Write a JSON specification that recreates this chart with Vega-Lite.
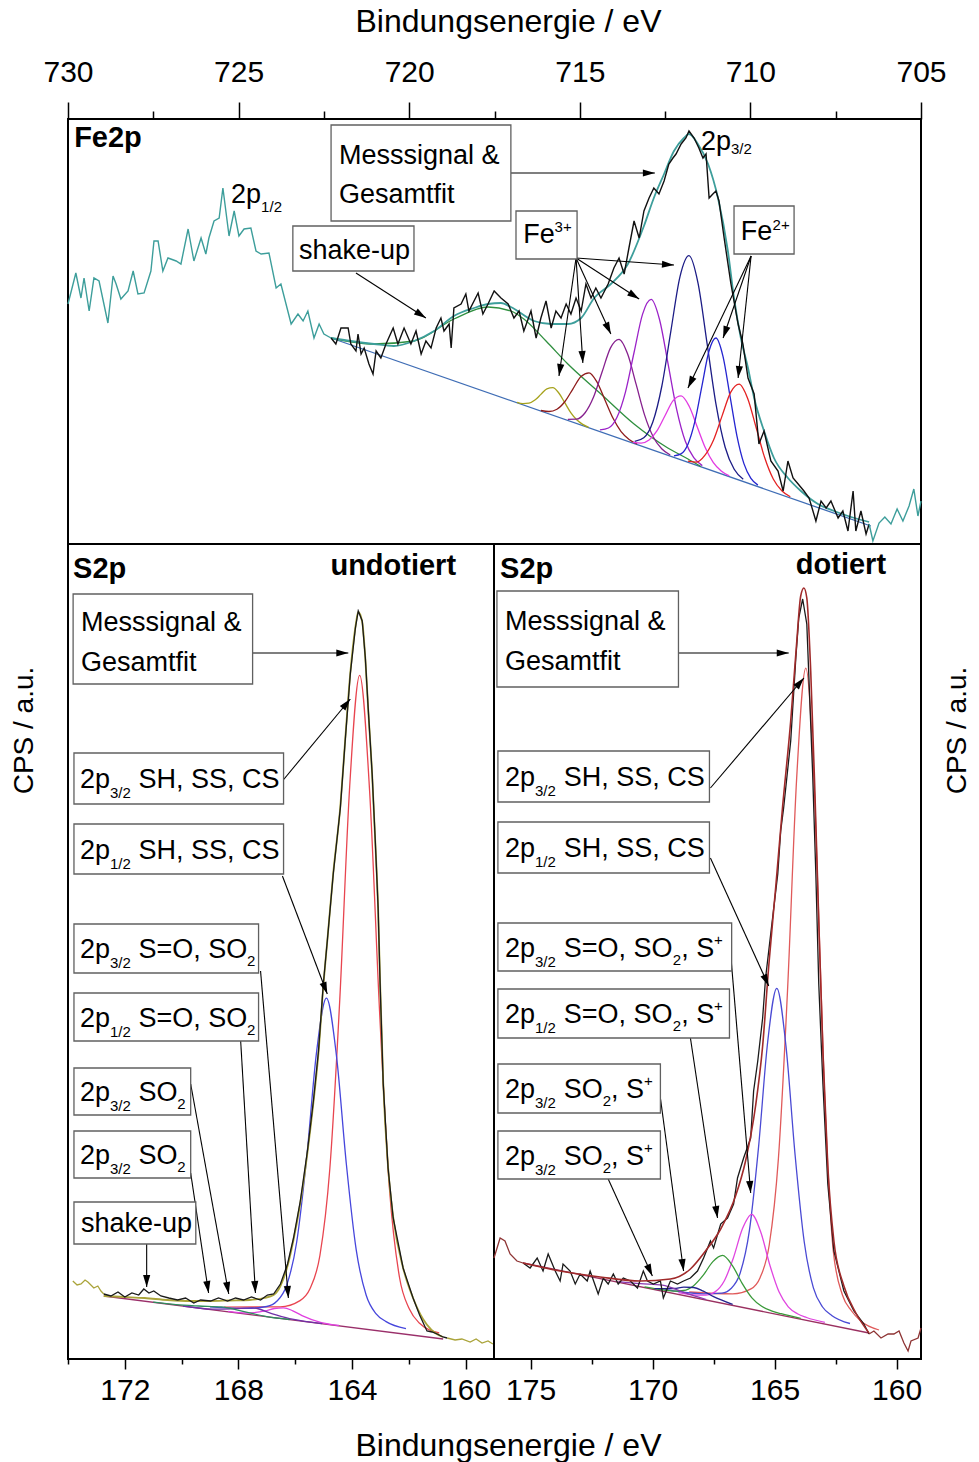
{
"$schema": "https://vega.github.io/schema/vega-lite/v6.json",
"background": "white",
"padding": {"left": 9, "top": 4, "right": 5, "bottom": 5},
"config": {
 "font": "Liberation Sans",
 "view": {"stroke": "black", "strokeWidth": 2},
 "axis": {"grid": false, "domain": false, "tickColor": "black", "tickWidth": 1.5, "labelColor": "black", "labelFontSize": 30, "labelFont": "Liberation Sans", "labelFlush": false, "labelOverlap": false, "titleColor": "black", "titleFontSize": 32, "titleFont": "Liberation Sans", "titleFontWeight": "normal"},
 "text": {"font": "Liberation Sans"}
},
"datasets": {
 "fe_comp": [
  {"s":"Fe Untergrund","E":706.47,"y":18},{"s":"Fe Untergrund","E":722.29,"y":206},
  {"s":"Fe Shake-up","E":722.29,"y":206},{"s":"Fe Shake-up","E":721.03,"y":200},{"s":"Fe Shake-up","E":719.86,"y":203},{"s":"Fe Shake-up","E":718.69,"y":225},{"s":"Fe Shake-up","E":717.69,"y":237},{"s":"Fe Shake-up","E":717.02,"y":233},{"s":"Fe Shake-up","E":716.64,"y":225},{"s":"Fe Shake-up","E":715.99,"y":203},{"s":"Fe Shake-up","E":715.35,"y":180},{"s":"Fe Shake-up","E":714.38,"y":150},{"s":"Fe Shake-up","E":713.41,"y":120},{"s":"Fe Shake-up","E":712.42,"y":96},{"s":"Fe Shake-up","E":711.83,"y":85},{"s":"Fe Shake-up","E":711.45,"y":77.5},
  {"s":"Fe3+ A","E":714.74,"y":116.6},{"s":"Fe3+ A","E":714.915,"y":119.6},{"s":"Fe3+ A","E":715.09,"y":124.2},{"s":"Fe3+ A","E":715.265,"y":131.4},{"s":"Fe3+ A","E":715.44,"y":141.3},{"s":"Fe3+ A","E":715.615,"y":151.0},{"s":"Fe3+ A","E":715.79,"y":156.3},{"s":"Fe3+ A","E":715.965,"y":155.2},{"s":"Fe3+ A","E":716.14,"y":149.6},{"s":"Fe3+ A","E":716.315,"y":143.9},{"s":"Fe3+ A","E":716.49,"y":140.8},{"s":"Fe3+ A","E":716.665,"y":140.4},{"s":"Fe3+ A","E":716.84,"y":141.6},
  {"s":"Fe3+ B","E":713.32,"y":100.0},{"s":"Fe3+ B","E":713.555,"y":104.6},{"s":"Fe3+ B","E":713.79,"y":112.4},{"s":"Fe3+ B","E":714.025,"y":125.7},{"s":"Fe3+ B","E":714.26,"y":143.8},{"s":"Fe3+ B","E":714.495,"y":161.9},{"s":"Fe3+ B","E":714.73,"y":171.2},{"s":"Fe3+ B","E":714.965,"y":167.5},{"s":"Fe3+ B","E":715.2,"y":155.2},{"s":"Fe3+ B","E":715.435,"y":142.5},{"s":"Fe3+ B","E":715.67,"y":134.8},{"s":"Fe3+ B","E":715.905,"y":132.5},{"s":"Fe3+ B","E":716.14,"y":133.5},
  {"s":"Fe3+ C","E":712.35,"y":89.0},{"s":"Fe3+ C","E":712.6,"y":95.2},{"s":"Fe3+ C","E":712.85,"y":107.3},{"s":"Fe3+ C","E":713.1,"y":128.9},{"s":"Fe3+ C","E":713.35,"y":159.8},{"s":"Fe3+ C","E":713.6,"y":190.2},{"s":"Fe3+ C","E":713.85,"y":204.7},{"s":"Fe3+ C","E":714.1,"y":196.1},{"s":"Fe3+ C","E":714.35,"y":171.7},{"s":"Fe3+ C","E":714.6,"y":146.7},{"s":"Fe3+ C","E":714.85,"y":131.0},{"s":"Fe3+ C","E":715.1,"y":124.9},{"s":"Fe3+ C","E":715.35,"y":124.7},
  {"s":"Fe3+ D","E":711.41,"y":78.4},{"s":"Fe3+ D","E":711.66,"y":86.3},{"s":"Fe3+ D","E":711.91,"y":103.0},{"s":"Fe3+ D","E":712.16,"y":134.4},{"s":"Fe3+ D","E":712.41,"y":179.6},{"s":"Fe3+ D","E":712.66,"y":224.0},{"s":"Fe3+ D","E":712.91,"y":244.6},{"s":"Fe3+ D","E":713.16,"y":229.9},{"s":"Fe3+ D","E":713.41,"y":191.5},{"s":"Fe3+ D","E":713.66,"y":152.2},{"s":"Fe3+ D","E":713.91,"y":126.7},{"s":"Fe3+ D","E":714.16,"y":116.0},{"s":"Fe3+ D","E":714.41,"y":114.1},
  {"s":"Fe3+ E","E":710.21,"y":64.8},{"s":"Fe3+ E","E":710.475,"y":74.7},{"s":"Fe3+ E","E":710.74,"y":96.8},{"s":"Fe3+ E","E":711.005,"y":139.1},{"s":"Fe3+ E","E":711.27,"y":200.6},{"s":"Fe3+ E","E":711.535,"y":260.9},{"s":"Fe3+ E","E":711.8,"y":288.4},{"s":"Fe3+ E","E":712.065,"y":267.2},{"s":"Fe3+ E","E":712.33,"y":213.2},{"s":"Fe3+ E","E":712.595,"y":158.0},{"s":"Fe3+ E","E":712.86,"y":122.0},{"s":"Fe3+ E","E":713.125,"y":106.2},{"s":"Fe3+ E","E":713.39,"y":102.6},
  {"s":"Fe2+ A","E":710.62,"y":68.1},{"s":"Fe2+ A","E":710.855,"y":73.0},{"s":"Fe2+ A","E":711.09,"y":81.6},{"s":"Fe2+ A","E":711.325,"y":96.5},{"s":"Fe2+ A","E":711.56,"y":117.3},{"s":"Fe2+ A","E":711.795,"y":137.8},{"s":"Fe2+ A","E":712.03,"y":148.1},{"s":"Fe2+ A","E":712.265,"y":143.4},{"s":"Fe2+ A","E":712.5,"y":128.5},{"s":"Fe2+ A","E":712.735,"y":113.3},{"s":"Fe2+ A","E":712.97,"y":104.0},{"s":"Fe2+ A","E":713.205,"y":100.9},{"s":"Fe2+ A","E":713.44,"y":101.6},
  {"s":"Fe2+ B","E":709.78,"y":58.9},{"s":"Fe2+ B","E":709.985,"y":65.7},{"s":"Fe2+ B","E":710.19,"y":80.4},{"s":"Fe2+ B","E":710.395,"y":108.2},{"s":"Fe2+ B","E":710.6,"y":148.4},{"s":"Fe2+ B","E":710.805,"y":187.9},{"s":"Fe2+ B","E":711.01,"y":206.0},{"s":"Fe2+ B","E":711.215,"y":192.7},{"s":"Fe2+ B","E":711.42,"y":158.2},{"s":"Fe2+ B","E":711.625,"y":122.8},{"s":"Fe2+ B","E":711.83,"y":99.8},{"s":"Fe2+ B","E":712.035,"y":90.1},{"s":"Fe2+ B","E":712.24,"y":88.1},
  {"s":"Fe2+ C","E":708.83,"y":47.2},{"s":"Fe2+ C","E":709.08,"y":53.3},{"s":"Fe2+ C","E":709.33,"y":65.0},{"s":"Fe2+ C","E":709.58,"y":86.2},{"s":"Fe2+ C","E":709.83,"y":116.2},{"s":"Fe2+ C","E":710.08,"y":145.6},{"s":"Fe2+ C","E":710.33,"y":159.9},{"s":"Fe2+ C","E":710.58,"y":151.6},{"s":"Fe2+ C","E":710.83,"y":128.1},{"s":"Fe2+ C","E":711.08,"y":104.0},{"s":"Fe2+ C","E":711.33,"y":88.8},{"s":"Fe2+ C","E":711.58,"y":81.9},{"s":"Fe2+ C","E":711.83,"y":82.8}
 ],
 "fe_fit": [
  {"E":722.29,"y":206},{"E":721.71,"y":203},{"E":721.03,"y":200},{"E":720.45,"y":198},{"E":719.86,"y":203},{"E":719.27,"y":213},{"E":718.69,"y":228},{"E":718.10,"y":236},{"E":717.69,"y":240},{"E":717.31,"y":241},{"E":717.02,"y":237},{"E":716.34,"y":223},{"E":715.84,"y":220},{"E":715.35,"y":220},{"E":714.96,"y":226},{"E":714.58,"y":246},{"E":714.09,"y":260},{"E":713.59,"y":280},{"E":713.12,"y":318},{"E":712.83,"y":346},{"E":712.53,"y":370},{"E":712.24,"y":393},{"E":711.95,"y":406},{"E":711.80,"y":410},{"E":711.54,"y":400},{"E":711.24,"y":380},{"E":710.95,"y":346},{"E":710.66,"y":293},{"E":710.48,"y":246},{"E":710.28,"y":206},{"E":710.07,"y":176},{"E":709.89,"y":146},{"E":709.60,"y":113},{"E":709.31,"y":86},{"E":708.90,"y":66},{"E":708.52,"y":53},{"E":708.02,"y":40},{"E":707.55,"y":33},{"E":707.05,"y":27},{"E":706.52,"y":22}
 ],
 "fe_meas": [
  {"s":"Fe Spektrum L","E":730.0,"y":240},{"s":"Fe Spektrum L","E":729.77,"y":271},{"s":"Fe Spektrum L","E":729.62,"y":246},{"s":"Fe Spektrum L","E":729.53,"y":266},{"s":"Fe Spektrum L","E":729.38,"y":233},{"s":"Fe Spektrum L","E":729.24,"y":266},{"s":"Fe Spektrum L","E":729.09,"y":263},{"s":"Fe Spektrum L","E":728.83,"y":221},{"s":"Fe Spektrum L","E":728.68,"y":268},{"s":"Fe Spektrum L","E":728.59,"y":260},{"s":"Fe Spektrum L","E":728.45,"y":245},{"s":"Fe Spektrum L","E":728.24,"y":253},{"s":"Fe Spektrum L","E":728.09,"y":273},{"s":"Fe Spektrum L","E":727.95,"y":250},{"s":"Fe Spektrum L","E":727.77,"y":251},{"s":"Fe Spektrum L","E":727.57,"y":273},{"s":"Fe Spektrum L","E":727.48,"y":303},{"s":"Fe Spektrum L","E":727.36,"y":303},{"s":"Fe Spektrum L","E":727.22,"y":273},{"s":"Fe Spektrum L","E":727.07,"y":286},{"s":"Fe Spektrum L","E":726.83,"y":283},{"s":"Fe Spektrum L","E":726.69,"y":280},{"s":"Fe Spektrum L","E":726.48,"y":315},{"s":"Fe Spektrum L","E":726.31,"y":283},{"s":"Fe Spektrum L","E":726.10,"y":306},{"s":"Fe Spektrum L","E":725.96,"y":290},{"s":"Fe Spektrum L","E":725.87,"y":306},{"s":"Fe Spektrum L","E":725.72,"y":323},{"s":"Fe Spektrum L","E":725.57,"y":326},{"s":"Fe Spektrum L","E":725.46,"y":356},{"s":"Fe Spektrum L","E":725.28,"y":308},{"s":"Fe Spektrum L","E":725.13,"y":333},{"s":"Fe Spektrum L","E":724.99,"y":308},{"s":"Fe Spektrum L","E":724.84,"y":315},{"s":"Fe Spektrum L","E":724.64,"y":316},{"s":"Fe Spektrum L","E":724.49,"y":293},{"s":"Fe Spektrum L","E":724.34,"y":290},{"s":"Fe Spektrum L","E":724.11,"y":291},{"s":"Fe Spektrum L","E":723.90,"y":256},{"s":"Fe Spektrum L","E":723.76,"y":260},{"s":"Fe Spektrum L","E":723.46,"y":220},{"s":"Fe Spektrum L","E":723.26,"y":230},{"s":"Fe Spektrum L","E":723.11,"y":223},{"s":"Fe Spektrum L","E":722.97,"y":233},{"s":"Fe Spektrum L","E":722.79,"y":206},{"s":"Fe Spektrum L","E":722.64,"y":220},{"s":"Fe Spektrum L","E":722.50,"y":210},{"s":"Fe Spektrum L","E":722.29,"y":206},
  {"s":"Fe Messsignal","E":722.29,"y":206},{"s":"Fe Messsignal","E":722.15,"y":200},{"s":"Fe Messsignal","E":722.00,"y":216},{"s":"Fe Messsignal","E":721.79,"y":216},{"s":"Fe Messsignal","E":721.71,"y":200},{"s":"Fe Messsignal","E":721.56,"y":193},{"s":"Fe Messsignal","E":721.50,"y":210},{"s":"Fe Messsignal","E":721.41,"y":190},{"s":"Fe Messsignal","E":721.32,"y":196},{"s":"Fe Messsignal","E":721.18,"y":180},{"s":"Fe Messsignal","E":721.06,"y":170},{"s":"Fe Messsignal","E":720.97,"y":193},{"s":"Fe Messsignal","E":720.83,"y":186},{"s":"Fe Messsignal","E":720.68,"y":200},{"s":"Fe Messsignal","E":720.47,"y":216},{"s":"Fe Messsignal","E":720.33,"y":200},{"s":"Fe Messsignal","E":720.15,"y":216},{"s":"Fe Messsignal","E":719.95,"y":200},{"s":"Fe Messsignal","E":719.80,"y":213},{"s":"Fe Messsignal","E":719.65,"y":190},{"s":"Fe Messsignal","E":719.51,"y":203},{"s":"Fe Messsignal","E":719.36,"y":196},{"s":"Fe Messsignal","E":719.21,"y":216},{"s":"Fe Messsignal","E":719.07,"y":226},{"s":"Fe Messsignal","E":718.98,"y":213},{"s":"Fe Messsignal","E":718.83,"y":220},{"s":"Fe Messsignal","E":718.77,"y":196},{"s":"Fe Messsignal","E":718.69,"y":236},{"s":"Fe Messsignal","E":718.48,"y":240},{"s":"Fe Messsignal","E":718.34,"y":250},{"s":"Fe Messsignal","E":718.25,"y":233},{"s":"Fe Messsignal","E":717.98,"y":251},{"s":"Fe Messsignal","E":717.84,"y":230},{"s":"Fe Messsignal","E":717.69,"y":240},{"s":"Fe Messsignal","E":717.51,"y":253},{"s":"Fe Messsignal","E":717.31,"y":246},{"s":"Fe Messsignal","E":717.10,"y":240},{"s":"Fe Messsignal","E":716.93,"y":226},{"s":"Fe Messsignal","E":716.78,"y":233},{"s":"Fe Messsignal","E":716.64,"y":213},{"s":"Fe Messsignal","E":716.43,"y":233},{"s":"Fe Messsignal","E":716.28,"y":206},{"s":"Fe Messsignal","E":716.14,"y":226},{"s":"Fe Messsignal","E":715.99,"y":243},{"s":"Fe Messsignal","E":715.84,"y":216},{"s":"Fe Messsignal","E":715.70,"y":233},{"s":"Fe Messsignal","E":715.55,"y":226},{"s":"Fe Messsignal","E":715.40,"y":240},{"s":"Fe Messsignal","E":715.26,"y":230},{"s":"Fe Messsignal","E":715.11,"y":246},{"s":"Fe Messsignal","E":714.96,"y":233},{"s":"Fe Messsignal","E":714.82,"y":260},{"s":"Fe Messsignal","E":714.67,"y":246},{"s":"Fe Messsignal","E":714.53,"y":256},{"s":"Fe Messsignal","E":714.38,"y":246},{"s":"Fe Messsignal","E":714.17,"y":260},{"s":"Fe Messsignal","E":714.00,"y":276},{"s":"Fe Messsignal","E":713.85,"y":286},{"s":"Fe Messsignal","E":713.70,"y":270},{"s":"Fe Messsignal","E":713.56,"y":296},{"s":"Fe Messsignal","E":713.41,"y":323},{"s":"Fe Messsignal","E":713.26,"y":306},{"s":"Fe Messsignal","E":713.12,"y":333},{"s":"Fe Messsignal","E":712.97,"y":346},{"s":"Fe Messsignal","E":712.83,"y":356},{"s":"Fe Messsignal","E":712.68,"y":350},{"s":"Fe Messsignal","E":712.53,"y":363},{"s":"Fe Messsignal","E":712.39,"y":380},{"s":"Fe Messsignal","E":712.27,"y":386},{"s":"Fe Messsignal","E":712.18,"y":390},{"s":"Fe Messsignal","E":712.03,"y":400},{"s":"Fe Messsignal","E":711.89,"y":406},{"s":"Fe Messsignal","E":711.80,"y":413},{"s":"Fe Messsignal","E":711.65,"y":406},{"s":"Fe Messsignal","E":711.51,"y":396},{"s":"Fe Messsignal","E":711.39,"y":386},{"s":"Fe Messsignal","E":711.30,"y":390},{"s":"Fe Messsignal","E":711.21,"y":346},{"s":"Fe Messsignal","E":711.10,"y":350},{"s":"Fe Messsignal","E":711.01,"y":353},{"s":"Fe Messsignal","E":710.92,"y":343},{"s":"Fe Messsignal","E":710.77,"y":306},{"s":"Fe Messsignal","E":710.57,"y":260},{"s":"Fe Messsignal","E":710.36,"y":220},{"s":"Fe Messsignal","E":710.22,"y":200},{"s":"Fe Messsignal","E":710.07,"y":166},{"s":"Fe Messsignal","E":709.89,"y":150},{"s":"Fe Messsignal","E":709.75,"y":100},{"s":"Fe Messsignal","E":709.60,"y":113},{"s":"Fe Messsignal","E":709.40,"y":83},{"s":"Fe Messsignal","E":709.19,"y":73},{"s":"Fe Messsignal","E":709.04,"y":53},{"s":"Fe Messsignal","E":708.90,"y":83},{"s":"Fe Messsignal","E":708.75,"y":66},{"s":"Fe Messsignal","E":708.60,"y":60},{"s":"Fe Messsignal","E":708.43,"y":53},{"s":"Fe Messsignal","E":708.28,"y":46},{"s":"Fe Messsignal","E":708.08,"y":23},{"s":"Fe Messsignal","E":707.93,"y":43},{"s":"Fe Messsignal","E":707.78,"y":36},{"s":"Fe Messsignal","E":707.64,"y":43},{"s":"Fe Messsignal","E":707.43,"y":26},{"s":"Fe Messsignal","E":707.29,"y":33},{"s":"Fe Messsignal","E":707.14,"y":13},{"s":"Fe Messsignal","E":706.99,"y":53},{"s":"Fe Messsignal","E":706.91,"y":13},{"s":"Fe Messsignal","E":706.76,"y":33},{"s":"Fe Messsignal","E":706.61,"y":10},{"s":"Fe Messsignal","E":706.52,"y":20},
  {"s":"Fe Spektrum R","E":706.52,"y":20},{"s":"Fe Spektrum R","E":706.41,"y":3},{"s":"Fe Spektrum R","E":706.23,"y":21},{"s":"Fe Spektrum R","E":706.06,"y":27},{"s":"Fe Spektrum R","E":705.88,"y":20},{"s":"Fe Spektrum R","E":705.70,"y":35},{"s":"Fe Spektrum R","E":705.53,"y":23},{"s":"Fe Spektrum R","E":705.35,"y":38},{"s":"Fe Spektrum R","E":705.21,"y":55},{"s":"Fe Spektrum R","E":705.09,"y":28},{"s":"Fe Spektrum R","E":705.0,"y":43}
 ],
 "fe_arrows": [
  {"E":712.80,"y":371,"E2":717.02,"y2":371,"a":90},
  {"E":719.51,"y":226,"E2":721.56,"y2":271,"a":122.7},
  {"E":715.61,"y":168,"E2":715.11,"y2":286,"a":188.3},
  {"E":714.91,"y":181,"E2":715.11,"y2":286,"a":176.1},
  {"E":714.09,"y":210,"E2":715.11,"y2":286,"a":155},
  {"E":713.26,"y":245,"E2":715.11,"y2":286,"a":122.4},
  {"E":712.24,"y":279,"E2":715.11,"y2":286,"a":93.5},
  {"E":711.83,"y":156,"E2":709.98,"y2":288,"a":205.5},
  {"E":710.80,"y":206,"E2":709.98,"y2":288,"a":198.9},
  {"E":710.36,"y":166,"E2":709.98,"y2":288,"a":186.1}
 ],
 "fe_boxes": [
  {"E":722.29,"y":419,"E2":717.02,"y2":323},
  {"E":723.41,"y":318,"E2":719.86,"y2":273},
  {"E":716.87,"y":333,"E2":715.08,"y2":285},
  {"E":710.48,"y":338,"E2":708.72,"y2":290}
 ],
 "fe_text": [
  {"E":722.06,"y":380.5,"t":"Messsignal &"},
  {"E":722.06,"y":341.5,"t":"Gesamtfit"},
  {"E":723.23,"y":285,"t":"shake-up"},
  {"E":725.22,"y":341,"t":"2p"},
  {"E":711.45,"y":394,"t":"2p"},
  {"E":716.66,"y":300.7,"t":"Fe"},
  {"E":710.28,"y":303.7,"t":"Fe"}
 ],
 "fe_small": [
  {"E":724.34,"y":332,"t":"1/2"},
  {"E":710.57,"y":390,"t":"3/2"},
  {"E":715.74,"y":312,"t":"3+"},
  {"E":709.35,"y":314,"t":"2+"}
 ],
 "fe_bold": [
  {"E":729.82,"y":397,"t":"Fe2p"}
 ],
 "u_comp": [
  {"s":"U Untergrund","E":160.79,"y":20},{"s":"U Untergrund","E":172.74,"y":63},
  {"s":"U 2p3/2 SH","E":160.93,"y":26.0},{"s":"U 2p3/2 SH","E":161.63,"y":36.0},{"s":"U 2p3/2 SH","E":161.98,"y":50.0},{"s":"U 2p3/2 SH","E":162.33,"y":82.0},{"s":"U 2p3/2 SH","E":162.68,"y":170.0},{"s":"U 2p3/2 SH","E":163.03,"y":348.0},{"s":"U 2p3/2 SH","E":163.38,"y":568.0},{"s":"U 2p3/2 SH","E":163.73,"y":683.6},{"s":"U 2p3/2 SH","E":164.08,"y":573.2},{"s":"U 2p3/2 SH","E":164.43,"y":359.6},{"s":"U 2p3/2 SH","E":164.78,"y":190.5},{"s":"U 2p3/2 SH","E":165.13,"y":103.5},{"s":"U 2p3/2 SH","E":165.48,"y":70.2},{"s":"U 2p3/2 SH","E":165.83,"y":58.4},{"s":"U 2p3/2 SH","E":166.53,"y":52.2},{"s":"U 2p3/2 SH","E":168.5,"y":51.9},
  {"s":"U 2p1/2 SH","E":162.1,"y":30.4},{"s":"U 2p1/2 SH","E":162.8,"y":37.4},{"s":"U 2p1/2 SH","E":163.15,"y":45.1},{"s":"U 2p1/2 SH","E":163.5,"y":63.7},{"s":"U 2p1/2 SH","E":163.85,"y":108.9},{"s":"U 2p1/2 SH","E":164.2,"y":195.3},{"s":"U 2p1/2 SH","E":164.55,"y":303.9},{"s":"U 2p1/2 SH","E":164.9,"y":360.8},{"s":"U 2p1/2 SH","E":165.25,"y":306.4},{"s":"U 2p1/2 SH","E":165.6,"y":200.3},{"s":"U 2p1/2 SH","E":165.95,"y":116.5},{"s":"U 2p1/2 SH","E":166.3,"y":73.8},{"s":"U 2p1/2 SH","E":166.65,"y":57.7},{"s":"U 2p1/2 SH","E":167.0,"y":52.5},{"s":"U 2p1/2 SH","E":167.7,"y":50.6},{"s":"U 2p1/2 SH","E":169.0,"y":52.2},
  {"s":"U 2p3/2 S=O","E":164.46,"y":33.5},{"s":"U 2p3/2 S=O","E":165.11,"y":36.7},{"s":"U 2p3/2 S=O","E":165.76,"y":43.4},{"s":"U 2p3/2 S=O","E":166.085,"y":48.2},{"s":"U 2p3/2 S=O","E":166.41,"y":51.2},{"s":"U 2p3/2 S=O","E":166.735,"y":50.5},{"s":"U 2p3/2 S=O","E":167.06,"y":48.1},{"s":"U 2p3/2 S=O","E":167.71,"y":46.0},{"s":"U 2p3/2 S=O","E":168.36,"y":47.6},
  {"s":"U 2p1/2 S=O","E":165.05,"y":35.4},{"s":"U 2p1/2 S=O","E":166.1,"y":39.8},{"s":"U 2p1/2 S=O","E":166.8,"y":45.2},{"s":"U 2p1/2 S=O","E":167.5,"y":51.1},{"s":"U 2p1/2 S=O","E":168.2,"y":50.2},{"s":"U 2p1/2 S=O","E":168.9,"y":49.9},{"s":"U 2p1/2 S=O","E":169.95,"y":53.0},
  {"s":"U SO2","E":166.2,"y":39.5},{"s":"U SO2","E":167.0,"y":42.4},{"s":"U SO2","E":167.8,"y":47.3},{"s":"U SO2","E":168.6,"y":52.1},{"s":"U SO2","E":169.4,"y":53.0},{"s":"U SO2","E":170.2,"y":54.3},{"s":"U SO2","E":171.0,"y":56.8}
 ],
 "u_fit": [
  {"E":172.74,"y":63},{"E":172.0,"y":62},{"E":171.3,"y":61},{"E":170.5,"y":59},{"E":169.7,"y":58},{"E":169.0,"y":58},{"E":168.3,"y":58.5},{"E":167.6,"y":59},{"E":167.1,"y":61},{"E":166.76,"y":64},{"E":166.52,"y":73},{"E":166.27,"y":93},{"E":166.06,"y":119},{"E":165.82,"y":156},{"E":165.57,"y":206},{"E":165.36,"y":256},{"E":165.18,"y":306},{"E":165.01,"y":373},{"E":164.87,"y":418},{"E":164.66,"y":486},{"E":164.41,"y":553},{"E":164.24,"y":619},{"E":164.06,"y":686},{"E":163.88,"y":732},{"E":163.78,"y":747},{"E":163.64,"y":737},{"E":163.53,"y":700},{"E":163.43,"y":650},{"E":163.29,"y":584},{"E":163.18,"y":517},{"E":163.08,"y":450},{"E":163.01,"y":376},{"E":162.90,"y":276},{"E":162.73,"y":192},{"E":162.55,"y":142},{"E":162.20,"y":91},{"E":161.85,"y":61},{"E":161.5,"y":40},{"E":161.2,"y":29},{"E":160.8,"y":22}
 ],
 "u_meas": [
  {"s":"U Spektrum L","E":173.83,"y":78},{"s":"U Spektrum L","E":173.68,"y":74},{"s":"U Spektrum L","E":173.54,"y":75},{"s":"U Spektrum L","E":173.40,"y":79},{"s":"U Spektrum L","E":173.30,"y":77},{"s":"U Spektrum L","E":173.09,"y":71},{"s":"U Spektrum L","E":172.95,"y":73},{"s":"U Spektrum L","E":172.84,"y":68},{"s":"U Spektrum L","E":172.74,"y":65},
  {"s":"U Messsignal","E":172.74,"y":65},{"s":"U Messsignal","E":172.49,"y":63},{"s":"U Messsignal","E":172.24,"y":67},{"s":"U Messsignal","E":172.0,"y":62},{"s":"U Messsignal","E":171.75,"y":66},{"s":"U Messsignal","E":171.51,"y":64},{"s":"U Messsignal","E":171.33,"y":70},{"s":"U Messsignal","E":171.15,"y":66},{"s":"U Messsignal","E":170.98,"y":68},{"s":"U Messsignal","E":170.73,"y":63},{"s":"U Messsignal","E":170.45,"y":61},{"s":"U Messsignal","E":170.14,"y":59},{"s":"U Messsignal","E":169.86,"y":61},{"s":"U Messsignal","E":169.57,"y":56},{"s":"U Messsignal","E":169.33,"y":59},{"s":"U Messsignal","E":168.98,"y":58},{"s":"U Messsignal","E":168.70,"y":61},{"s":"U Messsignal","E":168.38,"y":58},{"s":"U Messsignal","E":168.10,"y":61},{"s":"U Messsignal","E":167.82,"y":59},{"s":"U Messsignal","E":167.54,"y":62},{"s":"U Messsignal","E":167.22,"y":59},{"s":"U Messsignal","E":166.98,"y":64},{"s":"U Messsignal","E":166.76,"y":65},{"s":"U Messsignal","E":166.52,"y":75},{"s":"U Messsignal","E":166.27,"y":95},{"s":"U Messsignal","E":166.06,"y":121},{"s":"U Messsignal","E":165.82,"y":158},{"s":"U Messsignal","E":165.57,"y":208},{"s":"U Messsignal","E":165.36,"y":258},{"s":"U Messsignal","E":165.18,"y":308},{"s":"U Messsignal","E":165.01,"y":375},{"s":"U Messsignal","E":164.87,"y":418},{"s":"U Messsignal","E":164.66,"y":485},{"s":"U Messsignal","E":164.41,"y":551},{"s":"U Messsignal","E":164.24,"y":618},{"s":"U Messsignal","E":164.06,"y":685},{"s":"U Messsignal","E":163.88,"y":731},{"s":"U Messsignal","E":163.78,"y":748},{"s":"U Messsignal","E":163.64,"y":738},{"s":"U Messsignal","E":163.53,"y":701},{"s":"U Messsignal","E":163.43,"y":651},{"s":"U Messsignal","E":163.29,"y":585},{"s":"U Messsignal","E":163.18,"y":518},{"s":"U Messsignal","E":163.08,"y":451},{"s":"U Messsignal","E":163.01,"y":375},{"s":"U Messsignal","E":162.90,"y":275},{"s":"U Messsignal","E":162.73,"y":191},{"s":"U Messsignal","E":162.55,"y":141},{"s":"U Messsignal","E":162.20,"y":91},{"s":"U Messsignal","E":161.85,"y":61},{"s":"U Messsignal","E":161.62,"y":44},{"s":"U Messsignal","E":161.36,"y":28},{"s":"U Messsignal","E":161.18,"y":27},{"s":"U Messsignal","E":161.00,"y":25},{"s":"U Messsignal","E":160.80,"y":22},{"s":"U Messsignal","E":160.65,"y":21},
  {"s":"U Spektrum R","E":160.65,"y":21},{"s":"U Spektrum R","E":160.37,"y":19},{"s":"U Spektrum R","E":160.13,"y":20},{"s":"U Spektrum R","E":159.84,"y":17},{"s":"U Spektrum R","E":159.63,"y":20},{"s":"U Spektrum R","E":159.42,"y":16},{"s":"U Spektrum R","E":159.21,"y":18},{"s":"U Spektrum R","E":159.04,"y":15}
 ],
 "u_arrows": [
  {"E":164.13,"y":706,"E2":167.50,"y2":706,"a":90},
  {"E":164.06,"y":660,"E2":166.45,"y2":578,"a":39.7},
  {"E":164.87,"y":365,"E2":166.45,"y2":483,"a":159.1},
  {"E":166.24,"y":61,"E2":167.22,"y2":388,"a":175.1},
  {"E":167.40,"y":66,"E2":167.92,"y2":318,"a":176.6},
  {"E":168.34,"y":65,"E2":169.68,"y2":275,"a":169.7},
  {"E":169.05,"y":66,"E2":169.68,"y2":186,"a":171.5},
  {"E":171.23,"y":72,"E2":171.23,"y2":115,"a":180}
 ],
 "u_boxes": [
  {"E":173.82,"y":765,"E2":167.5,"y2":675},
  {"E":173.79,"y":606,"E2":166.41,"y2":555},
  {"E":173.79,"y":535,"E2":166.41,"y2":485},
  {"E":173.79,"y":435,"E2":167.29,"y2":386},
  {"E":173.79,"y":366,"E2":167.29,"y2":318},
  {"E":173.79,"y":291,"E2":169.68,"y2":244},
  {"E":173.79,"y":228,"E2":169.68,"y2":181},
  {"E":173.79,"y":157,"E2":169.5,"y2":115}
 ],
 "u_text": [
  {"E":173.54,"y":728,"t":"Messsignal &"},
  {"E":173.54,"y":688,"t":"Gesamtfit"},
  {"E":173.58,"y":571,"t":"2p"},{"E":171.52,"y":571,"t":"SH, SS, CS"},
  {"E":173.58,"y":500,"t":"2p"},{"E":171.52,"y":500,"t":"SH, SS, CS"},
  {"E":173.58,"y":401,"t":"2p"},{"E":171.52,"y":401,"t":"S=O, SO"},
  {"E":173.58,"y":332,"t":"2p"},{"E":171.52,"y":332,"t":"S=O, SO"},
  {"E":173.58,"y":258,"t":"2p"},{"E":171.52,"y":258,"t":"SO"},
  {"E":173.58,"y":195,"t":"2p"},{"E":171.52,"y":195,"t":"SO"},
  {"E":173.54,"y":127,"t":"shake-up"}
 ],
 "u_small": [
  {"E":172.52,"y":561,"t":"3/2"},
  {"E":172.52,"y":490,"t":"1/2"},
  {"E":172.52,"y":391,"t":"3/2"},{"E":167.70,"y":393,"t":"2"},
  {"E":172.52,"y":322,"t":"1/2"},{"E":167.70,"y":324,"t":"2"},
  {"E":172.52,"y":248,"t":"3/2"},{"E":170.15,"y":250,"t":"2"},
  {"E":172.52,"y":185,"t":"3/2"},{"E":170.15,"y":187,"t":"2"}
 ],
 "u_bold": [
  {"E":173.82,"y":781,"t":"S2p"},{"E":164.76,"y":784,"t":"undotiert"}
 ],
 "d_comp": [
  {"s":"D Untergrund","E":161.13,"y":26},{"s":"D Untergrund","E":175.31,"y":96},
  {"s":"D 2p3/2 SH","E":160.72,"y":29.0},{"s":"D 2p3/2 SH","E":161.47,"y":38.0},{"s":"D 2p3/2 SH","E":161.845,"y":48.0},{"s":"D 2p3/2 SH","E":162.22,"y":64.0},{"s":"D 2p3/2 SH","E":162.595,"y":108.0},{"s":"D 2p3/2 SH","E":162.97,"y":275.0},{"s":"D 2p3/2 SH","E":163.345,"y":555.0},{"s":"D 2p3/2 SH","E":163.72,"y":690.8},{"s":"D 2p3/2 SH","E":164.095,"y":581.1},{"s":"D 2p3/2 SH","E":164.47,"y":368.5},{"s":"D 2p3/2 SH","E":164.845,"y":200.1},{"s":"D 2p3/2 SH","E":165.22,"y":114.0},{"s":"D 2p3/2 SH","E":165.595,"y":81.3},{"s":"D 2p3/2 SH","E":165.97,"y":70.1},{"s":"D 2p3/2 SH","E":166.72,"y":65.1},{"s":"D 2p3/2 SH","E":168.5,"y":67.0},
  {"s":"D 2p1/2 SH","E":161.91,"y":35.5},{"s":"D 2p1/2 SH","E":162.66,"y":43.6},{"s":"D 2p1/2 SH","E":163.035,"y":52.0},{"s":"D 2p1/2 SH","E":163.41,"y":71.1},{"s":"D 2p1/2 SH","E":163.785,"y":117.0},{"s":"D 2p1/2 SH","E":164.16,"y":204.0},{"s":"D 2p1/2 SH","E":164.535,"y":313.1},{"s":"D 2p1/2 SH","E":164.91,"y":370.7},{"s":"D 2p1/2 SH","E":165.285,"y":316.8},{"s":"D 2p1/2 SH","E":165.66,"y":211.4},{"s":"D 2p1/2 SH","E":166.035,"y":128.1},{"s":"D 2p1/2 SH","E":166.41,"y":86.0},{"s":"D 2p1/2 SH","E":166.785,"y":70.5},{"s":"D 2p1/2 SH","E":167.16,"y":65.9},{"s":"D 2p1/2 SH","E":167.91,"y":65.2},{"s":"D 2p1/2 SH","E":169.5,"y":69.6},
  {"s":"D 2p3/2 S=O","E":162.94,"y":36.6},{"s":"D 2p3/2 S=O","E":163.69,"y":41.5},{"s":"D 2p3/2 S=O","E":164.065,"y":45.3},{"s":"D 2p3/2 S=O","E":164.44,"y":52.2},{"s":"D 2p3/2 S=O","E":164.815,"y":66.9},{"s":"D 2p3/2 S=O","E":165.19,"y":93.5},{"s":"D 2p3/2 S=O","E":165.565,"y":126.7},{"s":"D 2p3/2 S=O","E":165.94,"y":144.7},{"s":"D 2p3/2 S=O","E":166.315,"y":130.4},{"s":"D 2p3/2 S=O","E":166.69,"y":101.0},{"s":"D 2p3/2 S=O","E":167.065,"y":78.0},{"s":"D 2p3/2 S=O","E":167.44,"y":67.1},{"s":"D 2p3/2 S=O","E":167.815,"y":63.8},{"s":"D 2p3/2 S=O","E":168.19,"y":63.8},{"s":"D 2p3/2 S=O","E":168.94,"y":66.3},
  {"s":"D 2p1/2 S=O","E":163.93,"y":40.6},{"s":"D 2p1/2 S=O","E":164.73,"y":45.3},{"s":"D 2p1/2 S=O","E":165.13,"y":48.1},{"s":"D 2p1/2 S=O","E":165.53,"y":52.7},{"s":"D 2p1/2 S=O","E":165.93,"y":61.2},{"s":"D 2p1/2 S=O","E":166.33,"y":75.7},{"s":"D 2p1/2 S=O","E":166.73,"y":93.4},{"s":"D 2p1/2 S=O","E":167.13,"y":103.6},{"s":"D 2p1/2 S=O","E":167.53,"y":97.4},{"s":"D 2p1/2 S=O","E":167.93,"y":83.6},{"s":"D 2p1/2 S=O","E":168.33,"y":73.1},{"s":"D 2p1/2 S=O","E":168.73,"y":68.5},{"s":"D 2p1/2 S=O","E":169.13,"y":67.9},{"s":"D 2p1/2 S=O","E":169.53,"y":69.0},{"s":"D 2p1/2 S=O","E":170.33,"y":72.2},
  {"s":"D SO2 a","E":166.72,"y":54.6},{"s":"D SO2 a","E":167.52,"y":62.6},{"s":"D SO2 a","E":167.92,"y":67.8},{"s":"D SO2 a","E":168.32,"y":71.5},{"s":"D SO2 a","E":168.72,"y":71.8},{"s":"D SO2 a","E":169.12,"y":70.5},{"s":"D SO2 a","E":169.92,"y":70.4},
  {"s":"D SO2 b","E":167.8,"y":59.5},{"s":"D SO2 b","E":168.7,"y":66.4},{"s":"D SO2 b","E":169.6,"y":73.8},{"s":"D SO2 b","E":170.5,"y":75.3},{"s":"D SO2 b","E":171.4,"y":77.3}
 ],
 "d_fit": [
  {"E":175.31,"y":96},{"E":173.79,"y":88},{"E":172.15,"y":82},{"E":170.50,"y":78},{"E":169.27,"y":80},{"E":168.45,"y":90},{"E":167.83,"y":108},{"E":167.21,"y":130},{"E":166.60,"y":163},{"E":166.19,"y":198},{"E":165.78,"y":253},{"E":165.49,"y":313},{"E":165.24,"y":393},{"E":164.95,"y":473},{"E":164.67,"y":553},{"E":164.34,"y":638},{"E":164.09,"y":718},{"E":163.93,"y":763},{"E":163.80,"y":771},{"E":163.68,"y":761},{"E":163.52,"y":688},{"E":163.35,"y":568},{"E":163.19,"y":438},{"E":163.02,"y":308},{"E":162.82,"y":193},{"E":162.57,"y":118},{"E":162.16,"y":73},{"E":161.67,"y":46},{"E":161.13,"y":26}
 ],
 "d_meas": [
  {"s":"D Spektrum L","E":176.5,"y":101},{"s":"D Spektrum L","E":176.25,"y":121},{"s":"D Spektrum L","E":176.05,"y":118},{"s":"D Spektrum L","E":175.84,"y":105},{"s":"D Spektrum L","E":175.56,"y":98},{"s":"D Spektrum L","E":175.31,"y":96},
  {"s":"D Messsignal","E":175.31,"y":96},{"s":"D Messsignal","E":175.02,"y":91},{"s":"D Messsignal","E":174.73,"y":101},{"s":"D Messsignal","E":174.49,"y":88},{"s":"D Messsignal","E":174.28,"y":105},{"s":"D Messsignal","E":173.99,"y":88},{"s":"D Messsignal","E":173.79,"y":78},{"s":"D Messsignal","E":173.67,"y":95},{"s":"D Messsignal","E":173.38,"y":88},{"s":"D Messsignal","E":173.17,"y":75},{"s":"D Messsignal","E":172.97,"y":85},{"s":"D Messsignal","E":172.68,"y":78},{"s":"D Messsignal","E":172.56,"y":88},{"s":"D Messsignal","E":172.23,"y":65},{"s":"D Messsignal","E":172.02,"y":81},{"s":"D Messsignal","E":171.82,"y":75},{"s":"D Messsignal","E":171.61,"y":85},{"s":"D Messsignal","E":171.41,"y":75},{"s":"D Messsignal","E":171.20,"y":81},{"s":"D Messsignal","E":170.91,"y":78},{"s":"D Messsignal","E":170.62,"y":71},{"s":"D Messsignal","E":170.38,"y":88},{"s":"D Messsignal","E":170.21,"y":78},{"s":"D Messsignal","E":169.97,"y":75},{"s":"D Messsignal","E":169.68,"y":78},{"s":"D Messsignal","E":169.56,"y":61},{"s":"D Messsignal","E":169.27,"y":78},{"s":"D Messsignal","E":168.98,"y":75},{"s":"D Messsignal","E":168.73,"y":78},{"s":"D Messsignal","E":168.45,"y":81},{"s":"D Messsignal","E":168.16,"y":88},{"s":"D Messsignal","E":167.91,"y":101},{"s":"D Messsignal","E":167.63,"y":118},{"s":"D Messsignal","E":167.50,"y":111},{"s":"D Messsignal","E":167.21,"y":135},{"s":"D Messsignal","E":166.93,"y":141},{"s":"D Messsignal","E":166.68,"y":155},{"s":"D Messsignal","E":166.52,"y":181},{"s":"D Messsignal","E":166.27,"y":201},{"s":"D Messsignal","E":165.98,"y":221},{"s":"D Messsignal","E":165.86,"y":268},{"s":"D Messsignal","E":165.69,"y":298},{"s":"D Messsignal","E":165.49,"y":341},{"s":"D Messsignal","E":165.37,"y":381},{"s":"D Messsignal","E":165.16,"y":425},{"s":"D Messsignal","E":164.87,"y":485},{"s":"D Messsignal","E":164.75,"y":528},{"s":"D Messsignal","E":164.63,"y":551},{"s":"D Messsignal","E":164.34,"y":618},{"s":"D Messsignal","E":164.13,"y":701},{"s":"D Messsignal","E":164.01,"y":741},{"s":"D Messsignal","E":163.85,"y":760},{"s":"D Messsignal","E":163.68,"y":735},{"s":"D Messsignal","E":163.60,"y":685},{"s":"D Messsignal","E":163.44,"y":585},{"s":"D Messsignal","E":163.31,"y":485},{"s":"D Messsignal","E":163.19,"y":375},{"s":"D Messsignal","E":163.02,"y":275},{"s":"D Messsignal","E":162.82,"y":175},{"s":"D Messsignal","E":162.57,"y":108},{"s":"D Messsignal","E":162.16,"y":68},{"s":"D Messsignal","E":161.75,"y":48},{"s":"D Messsignal","E":161.34,"y":35},{"s":"D Messsignal","E":161.13,"y":25},
  {"s":"D Spektrum R","E":161.13,"y":25},{"s":"D Spektrum R","E":160.93,"y":28},{"s":"D Spektrum R","E":160.64,"y":21},{"s":"D Spektrum R","E":160.35,"y":25},{"s":"D Spektrum R","E":160.11,"y":25},{"s":"D Spektrum R","E":159.90,"y":28},{"s":"D Spektrum R","E":159.70,"y":16},{"s":"D Spektrum R","E":159.53,"y":8},{"s":"D Spektrum R","E":159.41,"y":18},{"s":"D Spektrum R","E":159.12,"y":21},{"s":"D Spektrum R","E":159.0,"y":31}
 ],
 "d_arrows": [
  {"E":164.42,"y":706,"E2":168.94,"y2":706,"a":90},
  {"E":163.80,"y":681,"E2":167.63,"y2":571,"a":40.2},
  {"E":165.24,"y":373,"E2":167.63,"y2":501,"a":155.6},
  {"E":165.98,"y":166,"E2":166.80,"y2":405,"a":175.2},
  {"E":167.34,"y":141,"E2":168.45,"y2":321,"a":171.5},
  {"E":168.73,"y":88,"E2":169.68,"y2":261,"a":172.4},
  {"E":170.01,"y":83,"E2":171.82,"y2":180,"a":155.6}
 ],
 "d_boxes": [
  {"E":176.38,"y":768,"E2":168.94,"y2":672},
  {"E":176.34,"y":608,"E2":167.67,"y2":557},
  {"E":176.34,"y":537,"E2":167.67,"y2":486},
  {"E":176.34,"y":436,"E2":166.76,"y2":388},
  {"E":176.34,"y":370,"E2":166.85,"y2":321},
  {"E":176.34,"y":295,"E2":169.68,"y2":246},
  {"E":176.34,"y":228,"E2":169.68,"y2":180}
 ],
 "d_text": [
  {"E":176.05,"y":729,"t":"Messsignal &"},
  {"E":176.05,"y":689,"t":"Gesamtfit"},
  {"E":176.05,"y":573,"t":"2p"},{"E":173.64,"y":573,"t":"SH, SS, CS"},
  {"E":176.05,"y":502,"t":"2p"},{"E":173.64,"y":502,"t":"SH, SS, CS"},
  {"E":176.05,"y":402,"t":"2p"},{"E":173.64,"y":402,"t":"S=O, SO"},{"E":168.83,"y":402,"t":", S"},
  {"E":176.05,"y":336,"t":"2p"},{"E":173.64,"y":336,"t":"S=O, SO"},{"E":168.83,"y":336,"t":", S"},
  {"E":176.05,"y":261,"t":"2p"},{"E":173.64,"y":261,"t":"SO"},{"E":171.70,"y":261,"t":", S"},
  {"E":176.05,"y":194,"t":"2p"},{"E":173.64,"y":194,"t":"SO"},{"E":171.70,"y":194,"t":", S"}
 ],
 "d_small": [
  {"E":174.82,"y":563,"t":"3/2"},{"E":174.82,"y":492,"t":"1/2"},
  {"E":174.82,"y":392,"t":"3/2"},{"E":169.17,"y":394,"t":"2"},{"E":167.48,"y":414,"t":"+"},
  {"E":174.82,"y":326,"t":"1/2"},{"E":169.17,"y":328,"t":"2"},{"E":167.48,"y":348,"t":"+"},
  {"E":174.82,"y":251,"t":"3/2"},{"E":172.04,"y":253,"t":"2"},{"E":170.35,"y":273,"t":"+"},
  {"E":174.82,"y":184,"t":"3/2"},{"E":172.04,"y":186,"t":"2"},{"E":170.35,"y":206,"t":"+"}
 ],
 "d_bold": [
  {"E":176.25,"y":781,"t":"S2p"},{"E":164.13,"y":785,"t":"dotiert"}
 ]
},
"spacing": 0,
"bounds": "flush",
"resolve": {"scale": {"x": "independent", "y": "independent"}},
"vconcat": [
 {
  "width": 853, "height": 425,
  "encoding": {
   "x": {"field": "E", "type": "quantitative", "scale": {"domain": [705, 730], "reverse": true, "nice": false, "zero": false},
    "axis": {"orient": "top", "values": [730, 727.5, 725, 722.5, 720, 717.5, 715, 712.5, 710, 707.5, 705], "tickSize": {"condition": {"test": "datum.value % 5 === 0", "value": 17}, "value": 8}, "labelExpr": "datum.value % 5 === 0 ? datum.label : ''", "labelPadding": 15, "title": "Bindungsenergie / eV", "titlePadding": 19, "titleX": 440}},
   "y": {"field": "y", "type": "quantitative", "scale": {"domain": [0, 425], "nice": false, "zero": false}, "axis": null}
  },
  "layer": [
   {"data": {"name": "fe_comp"}, "mark": {"type": "line", "interpolate": "monotone", "strokeWidth": 1.3},
    "encoding": {"color": {"field": "s", "type": "nominal", "legend": null, "scale": {"domain": ["Fe Untergrund","Fe Shake-up","Fe3+ A","Fe3+ B","Fe3+ C","Fe3+ D","Fe3+ E","Fe2+ A","Fe2+ B","Fe2+ C","Fe Messsignal","Fe Spektrum L","Fe Spektrum R","U Untergrund","U 2p3/2 SH","U 2p1/2 SH","U 2p3/2 S=O","U 2p1/2 S=O","U SO2","U Messsignal","U Spektrum L","U Spektrum R","D Untergrund","D 2p3/2 SH","D 2p1/2 SH","D 2p3/2 S=O","D 2p1/2 S=O","D SO2 a","D SO2 b","D Messsignal","D Spektrum L","D Spektrum R"], "range": ["#3f6db5","#2f8f3f","#a6a21c","#8e1c1c","#86208e","#9b22c8","#1c1c86","#e23ae2","#2525d0","#e42222","#111111","#3d9e9b","#3d9e9b","#9a2f6a","#e8454f","#4646dc","#e040e0","#7030a8","#2e8e5e","#1a1a1a","#aaa43a","#aaa43a","#9a3060","#e05a5a","#4a4ad4","#e045e0","#3a9a3a","#24248e","#8a3ab0","#1a1a1a","#8e3434","#8e3434"]}}}},
   {"data": {"name": "fe_fit"}, "mark": {"type": "line", "interpolate": "monotone", "strokeWidth": 1.8, "color": "#3d9e9b"}},
   {"data": {"name": "fe_meas"}, "mark": {"type": "line", "strokeWidth": 1.4},
    "encoding": {"color": {"field": "s", "type": "nominal", "legend": null, "scale": {"domain": ["Fe Untergrund","Fe Shake-up","Fe3+ A","Fe3+ B","Fe3+ C","Fe3+ D","Fe3+ E","Fe2+ A","Fe2+ B","Fe2+ C","Fe Messsignal","Fe Spektrum L","Fe Spektrum R","U Untergrund","U 2p3/2 SH","U 2p1/2 SH","U 2p3/2 S=O","U 2p1/2 S=O","U SO2","U Messsignal","U Spektrum L","U Spektrum R","D Untergrund","D 2p3/2 SH","D 2p1/2 SH","D 2p3/2 S=O","D 2p1/2 S=O","D SO2 a","D SO2 b","D Messsignal","D Spektrum L","D Spektrum R"], "range": ["#3f6db5","#2f8f3f","#a6a21c","#8e1c1c","#86208e","#9b22c8","#1c1c86","#e23ae2","#2525d0","#e42222","#111111","#3d9e9b","#3d9e9b","#9a2f6a","#e8454f","#4646dc","#e040e0","#7030a8","#2e8e5e","#1a1a1a","#aaa43a","#aaa43a","#9a3060","#e05a5a","#4a4ad4","#e045e0","#3a9a3a","#24248e","#8a3ab0","#1a1a1a","#8e3434","#8e3434"]}}}},
   {"data": {"name": "fe_arrows"}, "mark": {"type": "rule", "color": "black", "strokeWidth": 1.1},
    "encoding": {"x2": {"field": "E2"}, "y2": {"field": "y2"}}},
   {"data": {"name": "fe_arrows"}, "mark": {"type": "point", "shape": "M0,0L0.6,2L-0.6,2Z", "filled": true, "color": "black", "size": 144, "opacity": 1},
    "encoding": {"angle": {"field": "a", "type": "quantitative", "scale": null}}},
   {"data": {"name": "fe_boxes"}, "mark": {"type": "rect", "fill": "white", "stroke": "#606060", "strokeWidth": 1.3},
    "encoding": {"x2": {"field": "E2"}, "y2": {"field": "y2"}}},
   {"data": {"name": "fe_text"}, "mark": {"type": "text", "align": "left", "baseline": "alphabetic", "fontSize": 27, "color": "black"},
    "encoding": {"text": {"field": "t"}}},
   {"data": {"name": "fe_small"}, "mark": {"type": "text", "align": "left", "baseline": "alphabetic", "fontSize": 15, "color": "black"},
    "encoding": {"text": {"field": "t"}}},
   {"data": {"name": "fe_bold"}, "mark": {"type": "text", "align": "left", "baseline": "alphabetic", "fontSize": 29, "fontWeight": "bold", "color": "black"},
    "encoding": {"text": {"field": "t"}}}
  ]
 },
 {
  "spacing": 0,
  "bounds": "flush",
  "resolve": {"scale": {"x": "independent", "y": "independent"}},
  "hconcat": [
   {
    "width": 426, "height": 815,
    "encoding": {
     "x": {"field": "E", "type": "quantitative", "scale": {"domain": [159, 174], "reverse": true, "nice": false, "zero": false},
      "axis": {"orient": "bottom", "values": [174, 172, 170, 168, 166, 164, 162, 160], "tickSize": {"condition": {"test": "datum.value % 4 === 0", "value": 10}, "value": 5}, "labelExpr": "datum.value % 4 === 0 ? datum.label : ''", "labelPadding": 6, "title": "Bindungsenergie / eV", "titlePadding": 25, "titleX": 440}},
     "y": {"field": "y", "type": "quantitative", "scale": {"domain": [0, 815], "nice": false, "zero": false},
      "axis": {"orient": "left", "title": "CPS / a.u.", "titleFontSize": 28, "titlePadding": 30, "titleY": 186, "ticks": false, "labels": false, "domain": false, "grid": false}}
    },
    "layer": [
     {"data": {"name": "u_comp"}, "mark": {"type": "line", "interpolate": "monotone", "strokeWidth": 1.3},
      "encoding": {"color": {"field": "s", "type": "nominal", "legend": null, "scale": {"domain": ["Fe Untergrund","Fe Shake-up","Fe3+ A","Fe3+ B","Fe3+ C","Fe3+ D","Fe3+ E","Fe2+ A","Fe2+ B","Fe2+ C","Fe Messsignal","Fe Spektrum L","Fe Spektrum R","U Untergrund","U 2p3/2 SH","U 2p1/2 SH","U 2p3/2 S=O","U 2p1/2 S=O","U SO2","U Messsignal","U Spektrum L","U Spektrum R","D Untergrund","D 2p3/2 SH","D 2p1/2 SH","D 2p3/2 S=O","D 2p1/2 S=O","D SO2 a","D SO2 b","D Messsignal","D Spektrum L","D Spektrum R"], "range": ["#3f6db5","#2f8f3f","#a6a21c","#8e1c1c","#86208e","#9b22c8","#1c1c86","#e23ae2","#2525d0","#e42222","#111111","#3d9e9b","#3d9e9b","#9a2f6a","#e8454f","#4646dc","#e040e0","#7030a8","#2e8e5e","#1a1a1a","#aaa43a","#aaa43a","#9a3060","#e05a5a","#4a4ad4","#e045e0","#3a9a3a","#24248e","#8a3ab0","#1a1a1a","#8e3434","#8e3434"]}}}},
     {"data": {"name": "u_fit"}, "mark": {"type": "line", "interpolate": "monotone", "strokeWidth": 1.8, "color": "#aaa43a"}},
     {"data": {"name": "u_meas"}, "mark": {"type": "line", "strokeWidth": 1.3},
      "encoding": {"color": {"field": "s", "type": "nominal", "legend": null, "scale": {"domain": ["Fe Untergrund","Fe Shake-up","Fe3+ A","Fe3+ B","Fe3+ C","Fe3+ D","Fe3+ E","Fe2+ A","Fe2+ B","Fe2+ C","Fe Messsignal","Fe Spektrum L","Fe Spektrum R","U Untergrund","U 2p3/2 SH","U 2p1/2 SH","U 2p3/2 S=O","U 2p1/2 S=O","U SO2","U Messsignal","U Spektrum L","U Spektrum R","D Untergrund","D 2p3/2 SH","D 2p1/2 SH","D 2p3/2 S=O","D 2p1/2 S=O","D SO2 a","D SO2 b","D Messsignal","D Spektrum L","D Spektrum R"], "range": ["#3f6db5","#2f8f3f","#a6a21c","#8e1c1c","#86208e","#9b22c8","#1c1c86","#e23ae2","#2525d0","#e42222","#111111","#3d9e9b","#3d9e9b","#9a2f6a","#e8454f","#4646dc","#e040e0","#7030a8","#2e8e5e","#1a1a1a","#aaa43a","#aaa43a","#9a3060","#e05a5a","#4a4ad4","#e045e0","#3a9a3a","#24248e","#8a3ab0","#1a1a1a","#8e3434","#8e3434"]}}}},
     {"data": {"name": "u_arrows"}, "mark": {"type": "rule", "color": "black", "strokeWidth": 1.1},
      "encoding": {"x2": {"field": "E2"}, "y2": {"field": "y2"}}},
     {"data": {"name": "u_arrows"}, "mark": {"type": "point", "shape": "M0,0L0.6,2L-0.6,2Z", "filled": true, "color": "black", "size": 144, "opacity": 1},
      "encoding": {"angle": {"field": "a", "type": "quantitative", "scale": null}}},
     {"data": {"name": "u_boxes"}, "mark": {"type": "rect", "fill": "white", "stroke": "#606060", "strokeWidth": 1.3},
      "encoding": {"x2": {"field": "E2"}, "y2": {"field": "y2"}}},
     {"data": {"name": "u_text"}, "mark": {"type": "text", "align": "left", "baseline": "alphabetic", "fontSize": 27, "color": "black"},
      "encoding": {"text": {"field": "t"}}},
     {"data": {"name": "u_small"}, "mark": {"type": "text", "align": "left", "baseline": "alphabetic", "fontSize": 15, "color": "black"},
      "encoding": {"text": {"field": "t"}}},
     {"data": {"name": "u_bold"}, "mark": {"type": "text", "align": "left", "baseline": "alphabetic", "fontSize": 29, "fontWeight": "bold", "color": "black"},
      "encoding": {"text": {"field": "t"}}}
    ]
   },
   {
    "width": 427, "height": 815,
    "encoding": {
     "x": {"field": "E", "type": "quantitative", "scale": {"domain": [159, 176.5], "reverse": true, "nice": false, "zero": false},
      "axis": {"orient": "bottom", "values": [175, 172.5, 170, 167.5, 165, 162.5, 160], "tickSize": {"condition": {"test": "datum.value % 5 === 0", "value": 10}, "value": 5}, "labelExpr": "datum.value % 5 === 0 ? datum.label : ''", "labelPadding": 6, "title": null}},
     "y": {"field": "y", "type": "quantitative", "scale": {"domain": [0, 815], "nice": false, "zero": false},
      "axis": {"orient": "right", "title": "CPS / a.u.", "titleFontSize": 28, "titleAngle": 270, "titleBaseline": "top", "titlePadding": 22, "titleY": 186, "ticks": false, "labels": false, "domain": false, "grid": false}}
    },
    "layer": [
     {"data": {"name": "d_comp"}, "mark": {"type": "line", "interpolate": "monotone", "strokeWidth": 1.3},
      "encoding": {"color": {"field": "s", "type": "nominal", "legend": null, "scale": {"domain": ["Fe Untergrund","Fe Shake-up","Fe3+ A","Fe3+ B","Fe3+ C","Fe3+ D","Fe3+ E","Fe2+ A","Fe2+ B","Fe2+ C","Fe Messsignal","Fe Spektrum L","Fe Spektrum R","U Untergrund","U 2p3/2 SH","U 2p1/2 SH","U 2p3/2 S=O","U 2p1/2 S=O","U SO2","U Messsignal","U Spektrum L","U Spektrum R","D Untergrund","D 2p3/2 SH","D 2p1/2 SH","D 2p3/2 S=O","D 2p1/2 S=O","D SO2 a","D SO2 b","D Messsignal","D Spektrum L","D Spektrum R"], "range": ["#3f6db5","#2f8f3f","#a6a21c","#8e1c1c","#86208e","#9b22c8","#1c1c86","#e23ae2","#2525d0","#e42222","#111111","#3d9e9b","#3d9e9b","#9a2f6a","#e8454f","#4646dc","#e040e0","#7030a8","#2e8e5e","#1a1a1a","#aaa43a","#aaa43a","#9a3060","#e05a5a","#4a4ad4","#e045e0","#3a9a3a","#24248e","#8a3ab0","#1a1a1a","#8e3434","#8e3434"]}}}},
     {"data": {"name": "d_meas"}, "mark": {"type": "line", "strokeWidth": 1.3},
      "encoding": {"color": {"field": "s", "type": "nominal", "legend": null, "scale": {"domain": ["Fe Untergrund","Fe Shake-up","Fe3+ A","Fe3+ B","Fe3+ C","Fe3+ D","Fe3+ E","Fe2+ A","Fe2+ B","Fe2+ C","Fe Messsignal","Fe Spektrum L","Fe Spektrum R","U Untergrund","U 2p3/2 SH","U 2p1/2 SH","U 2p3/2 S=O","U 2p1/2 S=O","U SO2","U Messsignal","U Spektrum L","U Spektrum R","D Untergrund","D 2p3/2 SH","D 2p1/2 SH","D 2p3/2 S=O","D 2p1/2 S=O","D SO2 a","D SO2 b","D Messsignal","D Spektrum L","D Spektrum R"], "range": ["#3f6db5","#2f8f3f","#a6a21c","#8e1c1c","#86208e","#9b22c8","#1c1c86","#e23ae2","#2525d0","#e42222","#111111","#3d9e9b","#3d9e9b","#9a2f6a","#e8454f","#4646dc","#e040e0","#7030a8","#2e8e5e","#1a1a1a","#aaa43a","#aaa43a","#9a3060","#e05a5a","#4a4ad4","#e045e0","#3a9a3a","#24248e","#8a3ab0","#1a1a1a","#8e3434","#8e3434"]}}}},
     {"data": {"name": "d_fit"}, "mark": {"type": "line", "interpolate": "monotone", "strokeWidth": 1.6, "color": "#a02a2a"}},
     {"data": {"name": "d_arrows"}, "mark": {"type": "rule", "color": "black", "strokeWidth": 1.1},
      "encoding": {"x2": {"field": "E2"}, "y2": {"field": "y2"}}},
     {"data": {"name": "d_arrows"}, "mark": {"type": "point", "shape": "M0,0L0.6,2L-0.6,2Z", "filled": true, "color": "black", "size": 144, "opacity": 1},
      "encoding": {"angle": {"field": "a", "type": "quantitative", "scale": null}}},
     {"data": {"name": "d_boxes"}, "mark": {"type": "rect", "fill": "white", "stroke": "#606060", "strokeWidth": 1.3},
      "encoding": {"x2": {"field": "E2"}, "y2": {"field": "y2"}}},
     {"data": {"name": "d_text"}, "mark": {"type": "text", "align": "left", "baseline": "alphabetic", "fontSize": 27, "color": "black"},
      "encoding": {"text": {"field": "t"}}},
     {"data": {"name": "d_small"}, "mark": {"type": "text", "align": "left", "baseline": "alphabetic", "fontSize": 15, "color": "black"},
      "encoding": {"text": {"field": "t"}}},
     {"data": {"name": "d_bold"}, "mark": {"type": "text", "align": "left", "baseline": "alphabetic", "fontSize": 29, "fontWeight": "bold", "color": "black"},
      "encoding": {"text": {"field": "t"}}}
    ]
   }
  ]
 }
]
}
